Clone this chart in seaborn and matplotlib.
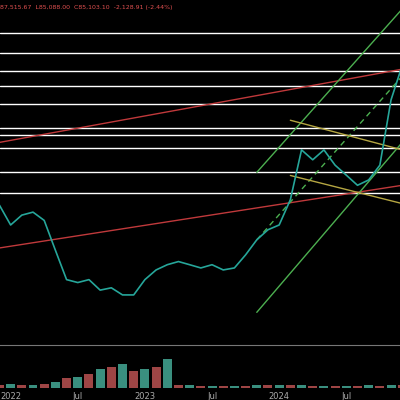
import numpy as np
import matplotlib
matplotlib.use("Agg")
import matplotlib.pyplot as plt
import seaborn as sns

sns.set_style("dark")

# monthly closes, Dec 2021 .. Dec 2024 (month index 0..36)
price = [31600, 27000, 29200, 29900, 28000, 22100, 17500, 17100, 17500, 16100, 16400, 15500,
         15500, 17500, 18900, 19700, 20200, 19700, 19200, 19700, 18900, 19200, 21300, 24000,
         26000, 27000, 33000, 49000, 45300, 49000, 43400, 40100, 37000, 38600, 43400, 72900, 95900]
volume = [3, 4, 3, 3, 4, 6, 10, 12, 15, 20, 22, 25, 18, 20, 22, 30, 3, 3, 2, 2, 2, 2, 2, 3,
          3, 3, 3, 3, 2, 2, 2, 2, 2, 3, 2, 3, 3]
levels = [124000, 106000, 91500, 81300, 70500, 58300, 55100, 49700, 41100, 34800]
tick_pos = [1, 7, 13, 19, 25, 31]
tick_txt = ["2022", "Jul", "2023", "Jul", "2024", "Jul"]
# trend lines: (x0, p0, x1, p1, colour, style)
trends = [
    (0, 22500, 36, 37000, "#c0393b", "-"),
    (0, 52000, 36, 93000, "#c0393b", "-"),
    (23, 41000, 36, 150000, "#4caf50", "-"),
    (23, 13500, 36, 52000, "#4caf50", "-"),
    (23, 24000, 36, 88000, "#4caf50", (0, (4, 3))),
    (26, 62000, 36, 49000, "#b5a642", "-"),
    (26, 40000, 36, 32000, "#b5a642", "-"),
]

fig = plt.figure(figsize=(4, 4), dpi=100, facecolor="black")
ax = fig.add_axes([0, 0.137, 1, 0.863], facecolor="black")
vax = fig.add_axes([0, 0.03, 1, 0.10], facecolor="black")

x = np.arange(len(price))
for lv in levels:
    ax.axhline(lv, color="white", lw=1)
for x0, p0, x1, p1, c, ls in trends:
    ax.plot([x0, x1], [p0, p1], color=c, lw=1, ls=ls)
sns.lineplot(x=x, y=price, ax=ax, color="#26a69a", lw=1.2)
ax.set_yscale("log")
ax.set_ylim(10400, 161000)
ax.set_xlim(0.05, 35.8)
ax.set_xticks([]); ax.set_yticks([])
ax.grid(False)
for s in ax.spines.values():
    s.set_visible(False)
ax.spines["bottom"].set_visible(True)
ax.spines["bottom"].set_color("#777777")
ax.text(0, 0.985, "87,515.67  L85,088.00  C85,103.10  -2,128.91 (-2.44%)", transform=ax.transAxes,
        color="#e05050", fontsize=4.5, va="top")

cols = ["#3a8f7f" if i % 2 else "#9e4545" for i in range(len(volume))]
vax.bar(x, volume, color=cols, width=0.8, linewidth=0)
vax.set_xlim(0.05, 35.8)
vax.set_ylim(0, 42)
vax.set_yticks([])
vax.set_xticks(tick_pos)
vax.set_xticklabels(tick_txt, color="#aaaaaa", fontsize=6)
vax.tick_params(length=0, pad=3)
vax.grid(False)
for s in vax.spines.values():
    s.set_visible(False)

fig.savefig("out.png", dpi=100, facecolor="black")
